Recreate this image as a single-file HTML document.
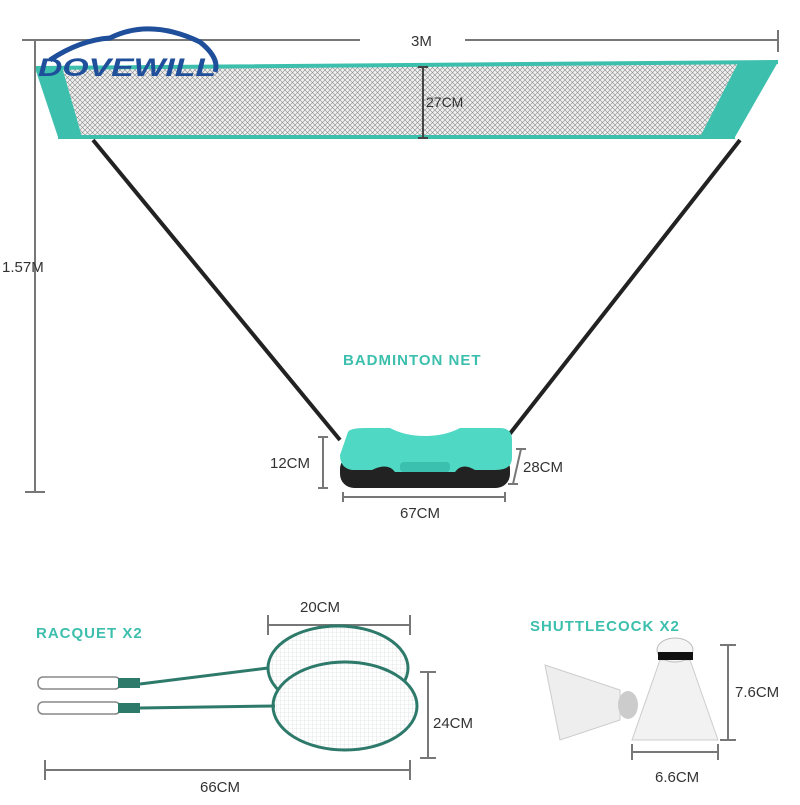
<!DOCTYPE html>
<html><head><meta charset="utf-8"><style>
body{margin:0;background:#fff}
svg text{font-family:"Liberation Sans",sans-serif}
</style></head><body>
<svg width="800" height="800" viewBox="0 0 800 800" xmlns="http://www.w3.org/2000/svg">
<defs>
<pattern id="mesh" width="5" height="5" patternUnits="userSpaceOnUse">
<rect width="5" height="5" fill="#f0f0f0"/>
<path d="M0 0L5 5M5 0L0 5" stroke="#888" stroke-width="0.6"/>
</pattern>
<pattern id="str" width="4" height="4" patternUnits="userSpaceOnUse">
<rect width="4" height="4" fill="#fff"/><path d="M0 0H4M0 0V4" stroke="#cfd8d6" stroke-width="0.6"/>
</pattern>
</defs>
<!-- net -->
<polygon points="62,67 738,63 700,137 82,137" fill="url(#mesh)"/>
<polygon points="35,68 62,67 82,137 58,137" fill="#3cbfad"/>
<polygon points="738,63 778,62 735,137 700,137" fill="#3cbfad"/>
<path d="M35 68L778 62M58 137H735" stroke="#3cbfad" stroke-width="4"/>
<!-- dimension lines -->
<g stroke="#777" stroke-width="2" fill="none">
<path d="M40 40H360M465 40H778M778 30V52"/>
<path d="M22 40H40M35 40V492M25 492H45"/>
<path d="M423 67V138M418 67H428M418 138H428" stroke="#444"/>
<path d="M323 437V488M318 437H328M318 488H328"/>
<path d="M521 449L513 484M516 449H526M508 484H518"/>
<path d="M343 497H505M343 492V502M505 492V502"/>
<path d="M268 625H410M268 615V635M410 615V635"/>
<path d="M428 672V758M420 672H436M420 758H436"/>
<path d="M45 770H410M45 760V780M410 760V780"/>
<path d="M728 645V740M720 645H736M720 740H736"/>
<path d="M632 752H718M632 744V760M718 744V760"/>
</g>
<!-- poles -->
<path d="M93 140L340 440M740 140L505 440" stroke="#222" stroke-width="4"/>
<!-- base -->
<rect x="340" y="455" width="170" height="33" rx="14" fill="#222"/>
<path d="M348 432Q350 428 365 428H390Q405 436 425 436Q445 436 460 428H500Q512 428 512 440V458Q512 470 495 470H475Q462 462 455 472H395Q388 462 372 470H352Q340 468 340 455Z" fill="#4fd8c4"/>
<rect x="400" y="462" width="50" height="10" rx="4" fill="#3bbfae"/>
<!-- texts -->
<g fill="#333" font-size="15">
<text x="411" y="46">3M</text>
<text x="426" y="107" font-size="14">27CM</text>
<text x="2" y="272">1.57M</text>
<text x="270" y="468">12CM</text>
<text x="523" y="472">28CM</text>
<text x="400" y="518">67CM</text>
<text x="300" y="612">20CM</text>
<text x="433" y="728">24CM</text>
<text x="200" y="792">66CM</text>
<text x="735" y="697">7.6CM</text>
<text x="655" y="782">6.6CM</text>
</g>
<g fill="#3cbfad" font-size="15" font-weight="bold" letter-spacing="1">
<text x="343" y="365">BADMINTON NET</text>
<text x="36" y="638">RACQUET X2</text>
<text x="530" y="631">SHUTTLECOCK X2</text>
</g>
<!-- racquets -->
<g stroke="#2d7a6a" stroke-width="3">
<ellipse cx="338" cy="668" rx="70" ry="42" fill="url(#str)"/>
<ellipse cx="345" cy="706" rx="72" ry="44" fill="url(#str)"/>
<path d="M268 668L140 684M275 706L140 708"/>
</g>
<g fill="#fff" stroke="#888" stroke-width="1.5">
<rect x="38" y="677" width="82" height="12" rx="5"/>
<rect x="38" y="702" width="82" height="12" rx="5"/>
</g>
<rect x="118" y="678" width="22" height="10" fill="#2d7a6a"/>
<rect x="118" y="703" width="22" height="10" fill="#2d7a6a"/>
<!-- shuttlecocks -->
<polygon points="545,665 620,690 620,720 560,740" fill="#eee" stroke="#ccc"/>
<ellipse cx="628" cy="705" rx="10" ry="14" fill="#ccc"/>
<polygon points="660,660 690,660 718,740 632,740" fill="#f2f2f2" stroke="#ccc"/>
<ellipse cx="675" cy="650" rx="18" ry="12" fill="#f5f5f5" stroke="#bbb"/>
<rect x="658" y="652" width="35" height="8" fill="#111"/>
<!-- logo -->
<path d="M50 60Q80 40 110 38Q150 18 200 42Q220 58 215 72" stroke="#1f4e9a" stroke-width="5" fill="none"/>
<text x="38" y="76" font-size="25" font-weight="bold" font-style="italic" fill="#1f4e9a" textLength="178" lengthAdjust="spacingAndGlyphs">DOVEWILL</text>
</svg>
</body></html>
